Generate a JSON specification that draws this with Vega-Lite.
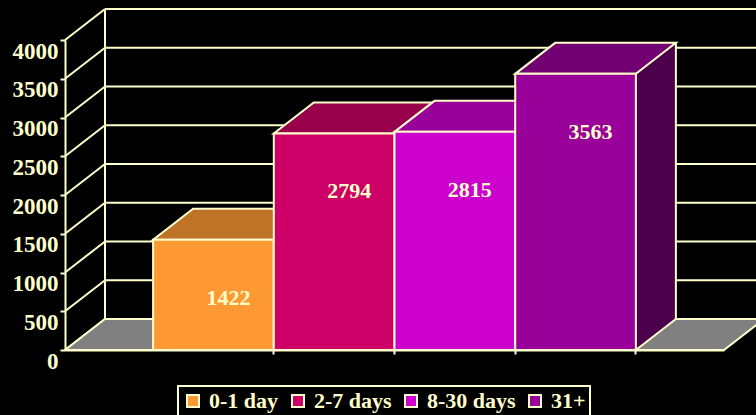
{
  "$schema": "https://vega.github.io/schema/vega-lite/v6.json",
  "width": 659,
  "height": 310,
  "autosize": {"type": "none"},
  "padding": {"left": 65, "top": 40, "right": 32, "bottom": 65},
  "background": "black",
  "config": {
    "view": {"stroke": null},
    "font": "Liberation Serif",
    "axisY": {"grid": false, "domainColor": "#FFFFCC", "domainWidth": 2, "tickColor": "#FFFFCC", "tickWidth": 2, "tickSize": 5,
      "labelColor": "#FFFFCC", "labelFont": "Liberation Serif", "labelFontWeight": "bold", "labelFontSize": 23,
      "labelBaseline": "top", "labelPadding": 2, "zindex": 1, "format": "d", "labelOverlap": false, "labelBound": false},
    "axisX": {"grid": false, "labels": false, "domainColor": "#FFFFCC", "domainWidth": 2, "tickColor": "#FFFFCC",
      "tickWidth": 2, "tickSize": 4, "bandPosition": 1, "zindex": 1}
  },
  "datasets": {
    "counts": [
      {"period": "0-1 day", "count": 1422},
      {"period": "2-7 days", "count": 2794},
      {"period": "8-30 days", "count": 2815},
      {"period": "31+", "count": 3563}
    ],
    "ticks": [
      {"v": 0}, {"v": 500}, {"v": 1000}, {"v": 1500}, {"v": 2000},
      {"v": 2500}, {"v": 3000}, {"v": 3500}, {"v": 4000}
    ]
  },
  "resolve": {"scale": {"fill": "independent"}},
  "layer": [
    {
      "data": {"name": "ticks"},
      "mark": {"type": "rule", "color": "#FFFFCC", "strokeWidth": 2, "xOffset": 40, "x2Offset": 40, "yOffset": -31},
      "encoding": {
        "x": {"value": 0},
        "x2": {"value": "width"},
        "y": {"field": "v", "type": "quantitative", "title": null, "scale": {"domain": [0, 4000], "nice": false},
          "axis": {"values": [0, 500, 1000, 1500, 2000, 2500, 3000, 3500, 4000], "title": null, "format": "d", "labelOverlap": false}}
      }
    },
    {
      "data": {"name": "ticks"},
      "mark": {"type": "rule", "color": "#FFFFCC", "strokeWidth": 2, "x2Offset": 40, "y2Offset": -31},
      "encoding": {
        "x": {"value": 0},
        "x2": {"value": 0},
        "y": {"field": "v", "type": "quantitative", "title": null,
          "axis": {"values": [0, 500, 1000, 1500, 2000, 2500, 3000, 3500, 4000], "title": null, "format": "d", "labelOverlap": false}},
        "y2": {"field": "v"}
      }
    },
    {
      "data": {"values": [{}]},
      "mark": {"type": "rule", "color": "#FFFFCC", "strokeWidth": 2, "xOffset": 40, "yOffset": -31, "y2Offset": -31},
      "encoding": {
        "x": {"value": 0},
        "y": {"datum": 0, "type": "quantitative", "title": null,
          "axis": {"values": [0, 500, 1000, 1500, 2000, 2500, 3000, 3500, 4000], "title": null, "format": "d", "labelOverlap": false}},
        "y2": {"datum": 4000}
      }
    },
    {
      "data": {"values": [{}]},
      "mark": {"type": "point", "shape": "M0,0 L6.59,0 L6.99,-0.31 L0.4,-0.31 Z", "size": 40000, "filled": true, "fill": "#808080", "stroke": "#FFFFCC", "strokeWidth": 2, "opacity": 1},
      "encoding": {
        "x": {"value": 0},
        "y": {"datum": 0, "type": "quantitative", "title": null,
          "axis": {"values": [0, 500, 1000, 1500, 2000, 2500, 3000, 3500, 4000], "title": null, "format": "d", "labelOverlap": false}}
      }
    },
    {
      "data": {"name": "counts"},
      "mark": {"type": "bar", "width": 40, "xOffset": 80.35, "yOffset": -31, "y2Offset": -31, "strokeWidth": 0, "opacity": 1},
      "encoding": {
        "x": {"field": "period", "type": "nominal", "sort": ["0-1 day", "2-7 days", "8-30 days", "31+"], "title": null,
          "scale": {"paddingInner": 0, "paddingOuter": 0.73}},
        "y": {"field": "count", "type": "quantitative", "title": null,
          "axis": {"values": [0, 500, 1000, 1500, 2000, 2500, 3000, 3500, 4000], "title": null, "format": "d", "labelOverlap": false}},
        "y2": {"datum": 0},
        "fill": {"field": "period", "type": "nominal", "legend": null,
          "scale": {"domain": ["0-1 day", "2-7 days", "8-30 days", "31+"], "range": ["#804D1A", "#660033", "#660066", "#4C004C"]}}
      }
    },
    {
      "data": {"name": "counts"},
      "mark": {"type": "point", "shape": "M0.6035,0 L0.6035,-0.31 L1.0035,-0.31 Z", "size": 40000, "filled": true, "strokeWidth": 0, "opacity": 1},
      "encoding": {
        "x": {"field": "period", "type": "nominal", "sort": ["0-1 day", "2-7 days", "8-30 days", "31+"], "title": null},
        "y": {"datum": 0, "type": "quantitative", "title": null,
          "axis": {"values": [0, 500, 1000, 1500, 2000, 2500, 3000, 3500, 4000], "title": null, "format": "d", "labelOverlap": false}},
        "fill": {"field": "period", "type": "nominal", "legend": null,
          "scale": {"domain": ["0-1 day", "2-7 days", "8-30 days", "31+"], "range": ["#804D1A", "#660033", "#660066", "#4C004C"]}}
      }
    },
    {
      "data": {"name": "counts"},
      "mark": {"type": "point", "shape": "M0.6035,0 L1.0035,-0.31", "size": 40000, "filled": false, "stroke": "#FFFFCC", "strokeWidth": 2, "opacity": 1},
      "encoding": {
        "x": {"field": "period", "type": "nominal", "sort": ["0-1 day", "2-7 days", "8-30 days", "31+"], "title": null},
        "y": {"datum": 0, "type": "quantitative", "title": null,
          "axis": {"values": [0, 500, 1000, 1500, 2000, 2500, 3000, 3500, 4000], "title": null, "format": "d", "labelOverlap": false}}
      }
    },
    {
      "data": {"name": "counts"},
      "mark": {"type": "rule", "color": "#FFFFCC", "strokeWidth": 2, "xOffset": 100.35, "yOffset": -31, "y2Offset": -31},
      "encoding": {
        "x": {"field": "period", "type": "nominal", "sort": ["0-1 day", "2-7 days", "8-30 days", "31+"], "title": null},
        "y": {"field": "count", "type": "quantitative", "title": null,
          "axis": {"values": [0, 500, 1000, 1500, 2000, 2500, 3000, 3500, 4000], "title": null, "format": "d", "labelOverlap": false}},
        "y2": {"datum": 0}
      }
    },
    {
      "data": {"name": "counts"},
      "mark": {"type": "point", "shape": "M-0.6035,0 L0.6035,0 L1.0035,-0.31 L-0.2035,-0.31 Z", "size": 40000, "filled": true, "stroke": "#FFFFCC", "strokeWidth": 2, "opacity": 1},
      "encoding": {
        "x": {"field": "period", "type": "nominal", "sort": ["0-1 day", "2-7 days", "8-30 days", "31+"], "title": null},
        "y": {"field": "count", "type": "quantitative", "title": null,
          "axis": {"values": [0, 500, 1000, 1500, 2000, 2500, 3000, 3500, 4000], "title": null, "format": "d", "labelOverlap": false}},
        "fill": {"field": "period", "type": "nominal", "legend": null,
          "scale": {"domain": ["0-1 day", "2-7 days", "8-30 days", "31+"], "range": ["#BF7326", "#99004C", "#990099", "#730073"]}}
      }
    },
    {
      "data": {"name": "counts"},
      "mark": {"type": "bar", "stroke": "#FFFFCC", "strokeWidth": 2, "opacity": 1},
      "encoding": {
        "x": {"field": "period", "type": "nominal", "sort": ["0-1 day", "2-7 days", "8-30 days", "31+"], "title": null},
        "y": {"field": "count", "type": "quantitative", "title": null,
          "axis": {"values": [0, 500, 1000, 1500, 2000, 2500, 3000, 3500, 4000], "title": null, "format": "d", "labelOverlap": false}},
        "color": {"field": "period", "type": "nominal",
          "scale": {"domain": ["0-1 day", "2-7 days", "8-30 days", "31+"], "range": ["#FF9933", "#CC0066", "#CC00CC", "#990099"]},
          "legend": {"orient": "none", "legendX": 113, "legendY": 346, "direction": "horizontal", "columns": 4,
            "title": null, "labelFont": "Liberation Serif", "labelFontWeight": "bold", "labelFontSize": 22,
            "labelColor": "#FFFFCC", "labelLimit": 300, "symbolType": "square", "symbolSize": 144,
            "symbolStrokeColor": "#FFFFCC", "symbolStrokeWidth": 2, "symbolOpacity": 1,
            "columnPadding": 8, "labelOffset": 5, "padding": 4, "strokeColor": "#FFFFCC", "fillColor": "black",
            "encode": {"legend": {"update": {"strokeWidth": {"value": 2}}},
              "symbols": {"update": {"stroke": {"value": "#FFFFCC"}, "strokeWidth": {"value": 2}}}}}}
      }
    },
    {
      "data": {"name": "counts"},
      "mark": {"type": "text", "font": "Liberation Serif", "fontWeight": "bold", "fontSize": 22, "color": "#FFFFCC",
        "xOffset": 15, "yOffset": 58, "baseline": "middle", "align": "center"},
      "encoding": {
        "x": {"field": "period", "type": "nominal", "sort": ["0-1 day", "2-7 days", "8-30 days", "31+"], "title": null},
        "y": {"field": "count", "type": "quantitative", "title": null,
          "axis": {"values": [0, 500, 1000, 1500, 2000, 2500, 3000, 3500, 4000], "title": null, "format": "d", "labelOverlap": false}},
        "text": {"field": "count", "type": "quantitative"}
      }
    }
  ]
}
